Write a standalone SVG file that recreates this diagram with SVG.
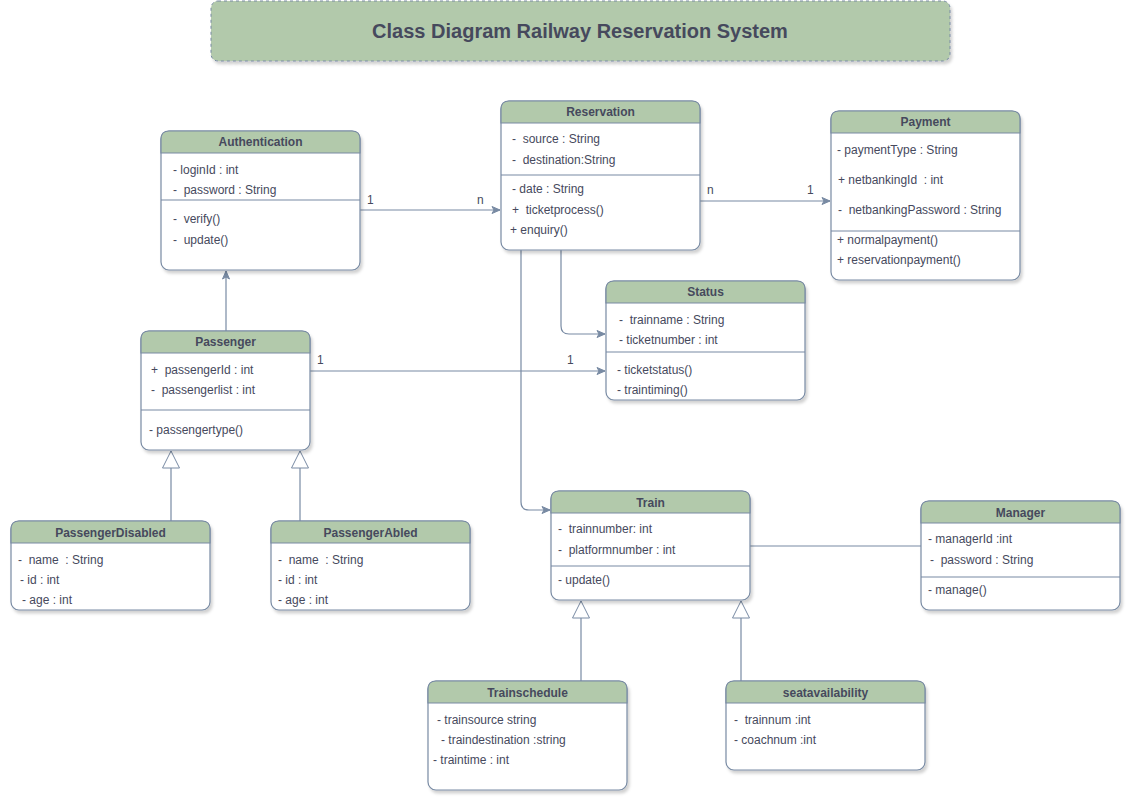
<svg xmlns="http://www.w3.org/2000/svg" width="1133" height="802" viewBox="0 0 1133 802" xml:space="preserve">
<defs>
<filter id="sh" x="-10%" y="-10%" width="130%" height="130%">
<feDropShadow dx="2" dy="3" stdDeviation="1.5" flood-color="#000" flood-opacity="0.18"/>
</filter>
<marker id="arr" viewBox="0 0 10 10" refX="9" refY="5" markerWidth="10" markerHeight="10" markerUnits="userSpaceOnUse" orient="auto">
<path d="M1,1.5 L9,5 L1,8.5 L3,5 Z" fill="#788AA3" stroke="#788AA3" stroke-width="1"/>
</marker>
<marker id="inh" viewBox="0 0 20 20" refX="19" refY="10" markerWidth="20" markerHeight="20" markerUnits="userSpaceOnUse" orient="auto">
<path d="M19,10 L2,1.5 L2,18.5 Z" fill="#fff" stroke="#788AA3" stroke-width="1"/>
</marker>
</defs>
<style>
.box{fill:#fff;stroke:#788AA3;stroke-width:1.2}
.hd{fill:#B2C9AB;stroke:#788AA3;stroke-width:1.2}
.sep{stroke:#788AA3;stroke-width:1.2}
.t{font-family:"Liberation Sans",Arial,sans-serif;font-size:12px;fill:#46495D;white-space:pre}
.h{font-family:"Liberation Sans",Arial,sans-serif;font-size:12px;font-weight:bold;fill:#46495D;text-anchor:middle}
.ln{fill:none;stroke:#788AA3;stroke-width:1.2}
.lb{font-family:"Liberation Sans",Arial,sans-serif;font-size:12px;fill:#46495D}
</style>
<rect width="1133" height="802" fill="#fff"/>
<g id="title">
<rect x="211" y="1" width="739" height="60" rx="7" fill="#B2C9AB" stroke="#788AA3" stroke-dasharray="3,3" filter="url(#sh)"/>
<text x="580" y="38" text-anchor="middle" font-family="'Liberation Sans',Arial,sans-serif" font-size="20" font-weight="bold" fill="#46495D">Class Diagram Railway Reservation System</text>
</g>
<g id="connectors">
<path class="ln" d="M360,210 L500,210" marker-end="url(#arr)"/>
<text class="lb" x="367" y="204">1</text>
<text class="lb" x="477" y="204">n</text>
<path class="ln" d="M700,201 L830,201" marker-end="url(#arr)"/>
<text class="lb" x="707" y="194">n</text>
<text class="lb" x="807" y="194">1</text>
<path class="ln" d="M226,331 L226,271" marker-end="url(#arr)"/>
<path class="ln" d="M310,371 L605,371" marker-end="url(#arr)"/>
<text class="lb" x="317" y="364">1</text>
<text class="lb" x="567" y="364">1</text>
<path class="ln" d="M561,250 L561,326 Q561,334 569,334 L605,334" marker-end="url(#arr)"/>
<path class="ln" d="M521,250 L521,502 Q521,510 529,510 L550,510" marker-end="url(#arr)"/>
<path class="ln" d="M171,521 L171,451" marker-end="url(#inh)"/>
<path class="ln" d="M300,521 L300,451" marker-end="url(#inh)"/>
<path class="ln" d="M581,681 L581,601" marker-end="url(#inh)"/>
<path class="ln" d="M741,681 L741,601" marker-end="url(#inh)"/>
<path class="ln" d="M750,546 L921,546"/>
</g>
<g id="authentication">
<rect class="box" x="161" y="131" width="199" height="139" rx="8" filter="url(#sh)"/>
<path class="hd" d="M161,153 L161,139 Q161,131 169,131 L352,131 Q360,131 360,139 L360,153 Z"/>
<text class="h" x="260.5" y="146">Authentication</text>
<text class="t" x="173" y="174">- loginId : int</text>
<text class="t" x="173" y="194">-  password : String</text>
<line class="sep" x1="161" y1="200" x2="360" y2="200"/>
<text class="t" x="173" y="223">-  verify()</text>
<text class="t" x="173" y="244">-  update()</text>
</g>
<g id="reservation">
<rect class="box" x="501" y="101" width="199" height="149" rx="8" filter="url(#sh)"/>
<path class="hd" d="M501,123 L501,109 Q501,101 509,101 L692,101 Q700,101 700,109 L700,123 Z"/>
<text class="h" x="600.5" y="116">Reservation</text>
<text class="t" x="512" y="143">-  source : String</text>
<text class="t" x="512" y="164">-  destination:String</text>
<line class="sep" x1="501" y1="175" x2="700" y2="175"/>
<text class="t" x="512" y="193">- date : String</text>
<text class="t" x="512" y="214">+  ticketprocess()</text>
<text class="t" x="510" y="234">+ enquiry()</text>
</g>
<g id="payment">
<rect class="box" x="831" y="111" width="189" height="169" rx="8" filter="url(#sh)"/>
<path class="hd" d="M831,133 L831,119 Q831,111 839,111 L1012,111 Q1020,111 1020,119 L1020,133 Z"/>
<text class="h" x="925.5" y="126">Payment</text>
<text class="t" x="837" y="154">- paymentType : String</text>
<text class="t" x="838" y="184">+ netbankingId  : int</text>
<text class="t" x="838" y="214">-  netbankingPassword : String</text>
<line class="sep" x1="831" y1="231" x2="1020" y2="231"/>
<text class="t" x="837" y="244">+ normalpayment()</text>
<text class="t" x="837" y="264">+ reservationpayment()</text>
</g>
<g id="status">
<rect class="box" x="606" y="281" width="199" height="119" rx="8" filter="url(#sh)"/>
<path class="hd" d="M606,303 L606,289 Q606,281 614,281 L797,281 Q805,281 805,289 L805,303 Z"/>
<text class="h" x="705.5" y="296">Status</text>
<text class="t" x="619" y="324">-  trainname : String</text>
<text class="t" x="619" y="344">- ticketnumber : int</text>
<line class="sep" x1="606" y1="352" x2="805" y2="352"/>
<text class="t" x="617" y="374">- ticketstatus()</text>
<text class="t" x="617" y="394">- traintiming()</text>
</g>
<g id="passenger">
<rect class="box" x="141" y="331" width="169" height="119" rx="8" filter="url(#sh)"/>
<path class="hd" d="M141,353 L141,339 Q141,331 149,331 L302,331 Q310,331 310,339 L310,353 Z"/>
<text class="h" x="225.5" y="346">Passenger</text>
<text class="t" x="151" y="374">+  passengerId : int</text>
<text class="t" x="151" y="394">-  passengerlist : int</text>
<line class="sep" x1="141" y1="410" x2="310" y2="410"/>
<text class="t" x="149" y="434">- passengertype()</text>
</g>
<g id="passengerdisabled">
<rect class="box" x="11" y="521" width="199" height="89" rx="8" filter="url(#sh)"/>
<path class="hd" d="M11,543 L11,529 Q11,521 19,521 L202,521 Q210,521 210,529 L210,543 Z"/>
<text class="h" x="110.5" y="537">PassengerDisabled</text>
<text class="t" x="18" y="564">-  name  : String</text>
<text class="t" x="20" y="584">- id : int</text>
<text class="t" x="22" y="604">- age : int</text>
</g>
<g id="passengerabled">
<rect class="box" x="271" y="521" width="199" height="89" rx="8" filter="url(#sh)"/>
<path class="hd" d="M271,543 L271,529 Q271,521 279,521 L462,521 Q470,521 470,529 L470,543 Z"/>
<text class="h" x="370.5" y="537">PassengerAbled</text>
<text class="t" x="278" y="564">-  name  : String</text>
<text class="t" x="278" y="584">- id : int</text>
<text class="t" x="278" y="604">- age : int</text>
</g>
<g id="train">
<rect class="box" x="551" y="491" width="199" height="109" rx="8" filter="url(#sh)"/>
<path class="hd" d="M551,513 L551,499 Q551,491 559,491 L742,491 Q750,491 750,499 L750,513 Z"/>
<text class="h" x="650.5" y="507">Train</text>
<text class="t" x="558" y="533">-  trainnumber: int</text>
<text class="t" x="558" y="554">-  platformnumber : int</text>
<line class="sep" x1="551" y1="566" x2="750" y2="566"/>
<text class="t" x="558" y="584">- update()</text>
</g>
<g id="manager">
<rect class="box" x="921" y="501" width="199" height="109" rx="8" filter="url(#sh)"/>
<path class="hd" d="M921,523 L921,509 Q921,501 929,501 L1112,501 Q1120,501 1120,509 L1120,523 Z"/>
<text class="h" x="1020.5" y="517">Manager</text>
<text class="t" x="928" y="543">- managerId :int</text>
<text class="t" x="930" y="564">-  password : String</text>
<line class="sep" x1="921" y1="577" x2="1120" y2="577"/>
<text class="t" x="928" y="594">- manage()</text>
</g>
<g id="trainschedule">
<rect class="box" x="428" y="681" width="199" height="109" rx="8" filter="url(#sh)"/>
<path class="hd" d="M428,703 L428,689 Q428,681 436,681 L619,681 Q627,681 627,689 L627,703 Z"/>
<text class="h" x="527.5" y="697">Trainschedule</text>
<text class="t" x="437" y="724">- trainsource string</text>
<text class="t" x="441" y="744">- traindestination :string</text>
<text class="t" x="433" y="764">- traintime : int</text>
</g>
<g id="seatavailability">
<rect class="box" x="726" y="681" width="199" height="89" rx="8" filter="url(#sh)"/>
<path class="hd" d="M726,703 L726,689 Q726,681 734,681 L917,681 Q925,681 925,689 L925,703 Z"/>
<text class="h" x="825.5" y="697">seatavailability</text>
<text class="t" x="734" y="724">-  trainnum :int</text>
<text class="t" x="734" y="744">- coachnum :int</text>
</g>
</svg>
